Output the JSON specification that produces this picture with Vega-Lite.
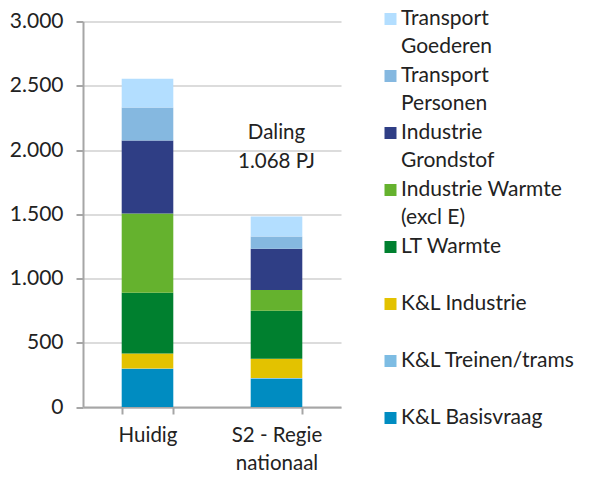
{
"$schema":"https://vega.github.io/schema/vega-lite/v6.json",
"width":258,"height":385.5,
"autosize":{"type":"none"},
"padding":{"left":83,"top":21.5,"right":254,"bottom":82},
"background":"white",
"config":{"font":"Lato","view":{"stroke":null}},
"layer":[
{"data":{"values":[
{"scenario":"Huidig","sector":"K&L Basisvraag","order":1,"value":296},
{"scenario":"Huidig","sector":"K&L Treinen/trams","order":2,"value":4},
{"scenario":"Huidig","sector":"K&L Industrie","order":3,"value":117},
{"scenario":"Huidig","sector":"LT Warmte","order":4,"value":472},
{"scenario":"Huidig","sector":"Industrie Warmte (excl E)","order":5,"value":617},
{"scenario":"Huidig","sector":"Industrie Grondstof","order":6,"value":568},
{"scenario":"Huidig","sector":"Transport Personen","order":7,"value":257},
{"scenario":"Huidig","sector":"Transport Goederen","order":8,"value":223},
{"scenario":"S2 - Regie nationaal","sector":"K&L Basisvraag","order":1,"value":220},
{"scenario":"S2 - Regie nationaal","sector":"K&L Treinen/trams","order":2,"value":6},
{"scenario":"S2 - Regie nationaal","sector":"K&L Industrie","order":3,"value":150},
{"scenario":"S2 - Regie nationaal","sector":"LT Warmte","order":4,"value":373},
{"scenario":"S2 - Regie nationaal","sector":"Industrie Warmte (excl E)","order":5,"value":161},
{"scenario":"S2 - Regie nationaal","sector":"Industrie Grondstof","order":6,"value":322},
{"scenario":"S2 - Regie nationaal","sector":"Transport Personen","order":7,"value":95},
{"scenario":"S2 - Regie nationaal","sector":"Transport Goederen","order":8,"value":156}
]},
"mark":{"type":"bar"},
"encoding":{
"x":{"field":"scenario","type":"nominal","sort":null,
"scale":{"paddingInner":0.6,"paddingOuter":0.3},
"axis":{"title":null,"labelAngle":0,"labelFontSize":20.5,"labelColor":"#222222","labelPadding":11,"labelLineHeight":28,"tickBand":"extent","tickColor":"#a6a6a6","tickWidth":2,"tickSize":7,"domainColor":"#a6a6a6","domainWidth":2,"grid":false,
"labelExpr":"datum.label == 'S2 - Regie nationaal' ? ['S2 - Regie','nationaal'] : datum.label"}},
"y":{"field":"value","type":"quantitative","stack":"zero",
"scale":{"domain":[0,3000],"nice":false},
"axis":{"title":null,"values":[0,500,1000,1500,2000,2500,3000],"labelExpr":"replace(format(datum.value,'d'),/(\\d)(\\d{3})$/,'$1.$2')","labelFontSize":21,"labelColor":"#222222","labelPadding":13,"tickColor":"#a6a6a6","tickWidth":2,"tickSize":7,"domainColor":"#a6a6a6","domainWidth":2,"grid":true,"gridColor":"#dcdcdc","gridWidth":2}},
"order":{"field":"order","type":"quantitative"},
"color":{"field":"sector","type":"nominal",
"scale":{"domain":["Transport Goederen","Transport Personen","Industrie Grondstof","Industrie Warmte (excl E)","LT Warmte","K&L Industrie","K&L Treinen/trams","K&L Basisvraag"],
"range":["#b3deff","#85b8e0","#2f3e85","#65b22e","#00802f","#e3c200","#7dbce3","#008cc1"]},
"legend":{"title":null,"orient":"none","legendX":297,"legendY":-13,"padding":0,"symbolType":"square","symbolSize":144,"symbolStrokeWidth":0,"symbolOpacity":1,"labelFontSize":21,"labelColor":"#222222","labelOffset":0,"rowPadding":7,"gridAlign":"all","labelLimit":250,
"encode":{"labels":{"update":{"lineHeight":{"value":28}}}},
"labelExpr":"datum.label == 'Transport Goederen' ? ['Transport','Goederen'] : datum.label == 'Transport Personen' ? ['Transport','Personen'] : datum.label == 'Industrie Grondstof' ? ['Industrie','Grondstof'] : datum.label == 'Industrie Warmte (excl E)' ? ['Industrie Warmte','(excl E)'] : [datum.label,' ']"}}
}},
{"data":{"values":[
{"scenario":"S2 - Regie nationaal","level":2132,"note":"Daling"},
{"scenario":"S2 - Regie nationaal","level":1907,"note":"1.068 PJ"}
]},
"mark":{"type":"text","fontSize":20.5,"color":"#222222"},
"encoding":{
"x":{"field":"scenario","type":"nominal","sort":null},
"y":{"field":"level","type":"quantitative"},
"text":{"field":"note"}
}}
]
}
